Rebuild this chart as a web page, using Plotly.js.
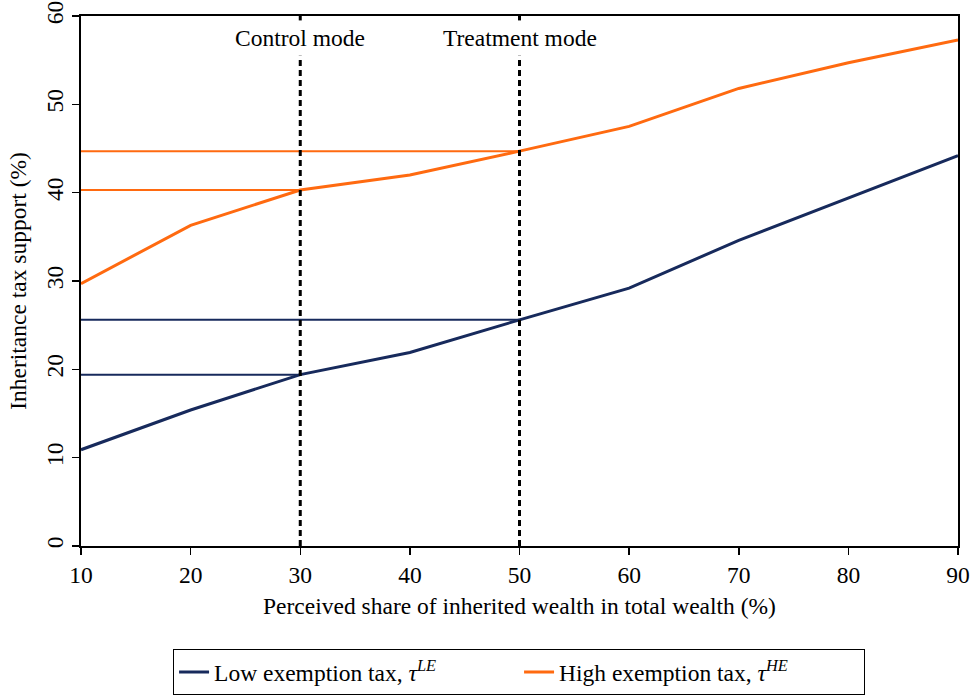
<!DOCTYPE html>
<html>
<head>
<meta charset="utf-8">
<script src="https://cdn.plot.ly/plotly-3.0.1.min.js"></script>
<style>
  html, body { margin: 0; padding: 0; background: #fff; }
  #chart { width: 975px; height: 695px; }
</style>
</head>
<body>
<div id="chart"></div>
<script>
// Perceived share of inherited wealth (%)
const shares = [10, 20, 30, 40, 50, 60, 70, 80, 90];
// Inheritance tax support (%) by exemption level
const lowExemption = [10.9, 15.4, 19.4, 21.9, 25.6, 29.2, 34.6, 39.4, 44.2];
const highExemption = [29.7, 36.3, 40.3, 42.0, 44.7, 47.5, 51.8, 54.7, 57.3];
// Survey modes marked on the x axis
const modeNames = ["Control mode", "Treatment mode"];
const modeShares = [30, 50];

const navy = "#172a5c";
const orange = "#ff6a10";
const serif = "Liberation Serif, Times New Roman, serif";
const fs = 23.5;

const traces = [];

// Thin guide lines from the y axis to each mode's support level
modeShares.forEach(function (m) {
  const i = shares.indexOf(m);
  [[lowExemption, navy], [highExemption, orange]].forEach(function (pair) {
    traces.push({
      x: [shares[0], m],
      y: [pair[0][i], pair[0][i]],
      mode: "lines",
      line: { color: pair[1], width: 2 },
      showlegend: false,
      hoverinfo: "skip"
    });
  });
});

traces.push({
  x: shares, y: lowExemption, mode: "lines",
  name: "Low exemption tax, <i>τ<sup>LE</sup></i>",
  line: { color: navy, width: 3 }
});
traces.push({
  x: shares, y: highExemption, mode: "lines",
  name: "High exemption tax, <i>τ<sup>HE</sup></i>",
  line: { color: orange, width: 3 }
});

// Dashed vertical markers at the mode values, broken under their labels
const shapes = [];
const annotations = [];
modeShares.forEach(function (m, k) {
  shapes.push({
    type: "line", xref: "x", yref: "y",
    x0: m, x1: m, y0: 0, y1: 55.5,
    line: { color: "#000", width: 3, dash: "6px,4px" }
  });
  shapes.push({
    type: "line", xref: "x", yref: "y",
    x0: m, x1: m, y0: 59.5, y1: 60,
    line: { color: "#000", width: 3 }
  });
  annotations.push({
    x: m, y: 57.5, xref: "x", yref: "y",
    text: modeNames[k], showarrow: false,
    font: { family: serif, size: fs, color: "#000" }
  });
});

const layout = {
  width: 975, height: 695,
  margin: { l: 81, r: 17, t: 16, b: 149, autoexpand: false },
  paper_bgcolor: "#fff", plot_bgcolor: "#fff",
  font: { family: serif, size: fs, color: "#000" },
  xaxis: {
    range: [10, 90], tickvals: shares, ticks: "outside", ticklen: 7,
    tickwidth: 1.5, tickcolor: "#000",
    showline: true, linecolor: "#000", linewidth: 2, mirror: true,
    showgrid: false, zeroline: false, automargin: false,
    title: { text: "Perceived share of inherited wealth in total wealth (%)", standoff: 10,
             font: { family: serif, size: fs } },
    tickfont: { family: serif, size: fs }
  },
  yaxis: {
    range: [0, 60], dtick: 10, ticks: "outside", ticklen: 7,
    tickwidth: 1.5, tickcolor: "#000", tickangle: -90,
    showline: true, linecolor: "#000", linewidth: 2, mirror: true,
    showgrid: false, zeroline: false, automargin: false,
    title: { text: "Inheritance tax support (%)", standoff: 8,
             font: { family: serif, size: fs } },
    tickfont: { family: serif, size: fs }
  },
  legend: {
    orientation: "h", x: 0.4995, xanchor: "center", y: -0.195, yanchor: "top",
    bordercolor: "#000", borderwidth: 1, bgcolor: "#fff",
    font: { family: serif, size: fs },
    entrywidth: 300
  },
  shapes: shapes,
  annotations: annotations
};

Plotly.newPlot("chart", traces, layout, { displayModeBar: false, staticPlot: true });
</script>
</body>
</html>
